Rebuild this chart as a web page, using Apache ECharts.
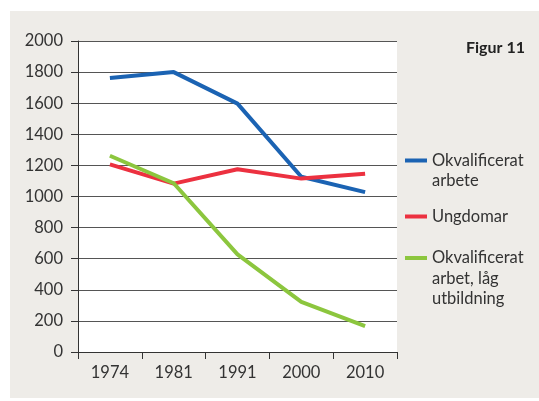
<!DOCTYPE html>
<html><head><meta charset="utf-8">
<script src="https://cdn.jsdelivr.net/npm/echarts@6/dist/echarts.min.js"></script>
<style>
html,body{margin:0;padding:0;background:#fff;width:539px;height:401px;overflow:hidden}
#c{position:absolute;left:10px;top:11px;width:529px;height:387px}
</style></head>
<body><div id="c"></div>
<script>
const categories = ['1974','1981','1991','2000','2010'];
const okvalificeratArbete = [1762, 1800, 1597, 1127, 1028];
const ungdomar = [1207, 1083, 1175, 1115, 1147];
const okvalLagUtb = [1262, 1085, 628, 322, 167];
const seriesNames = ['Okvalificerat\narbete', 'Ungdomar', 'Okvalificerat\narbet, låg\nutbildning'];
const yTicks = {min: 0, max: 2000, interval: 200};

const FONT = 'Lato';
const LH = 20.5;
const textCol = '#333333';
const colors = ['#1b63b3', '#ec3140', '#8cc63e'];

const chart = echarts.init(document.getElementById('c'), null, {renderer: 'canvas'});

function legendFor(i, iconY) {
  const n = seriesNames[i].split('\n').length;
  const H = (2 * n - 1) * LH;
  return {
    show: true,
    orient: 'vertical',
    left: 395,
    top: iconY - 11 - H / 2,
    padding: 0,
    icon: 'rect',
    itemWidth: 22,
    itemHeight: 4,
    itemGap: 9,
    data: [seriesNames[i]],
    formatter: function (name) { return ' \n'.repeat(n - 1) + name; },
    textStyle: {fontFamily: FONT, fontSize: 16.5, color: textCol, lineHeight: LH},
    selectedMode: false
  };
}

chart.setOption({
  backgroundColor: '#eeece8',
  animation: false,
  color: colors,
  title: {
    text: 'Figur 11', right: 14, top: 29, padding: 0,
    textStyle: {fontFamily: FONT, fontSize: 16, fontWeight: 'bold', color: '#222'}
  },
  legend: [legendFor(0, 160.5), legendFor(1, 216.5), legendFor(2, 258)],
  grid: {left: 68, top: 30, right: 142, bottom: 46, show: true, backgroundColor: '#ffffff', borderWidth: 0},
  xAxis: {
    type: 'category', data: categories, boundaryGap: true,
    axisLine: {show: true, lineStyle: {color: '#333', width: 1}},
    axisTick: {show: true, length: 7, lineStyle: {color: '#333'}},
    axisLabel: {fontFamily: FONT, fontSize: 16.5, color: textCol, margin: 12}
  },
  yAxis: {
    type: 'value', min: yTicks.min, max: yTicks.max, interval: yTicks.interval,
    axisLine: {show: true, lineStyle: {color: '#333', width: 1}},
    axisTick: {show: true, length: 7, lineStyle: {color: '#333'}},
    axisLabel: {fontFamily: FONT, fontSize: 16.5, color: textCol, margin: 15, formatter: function (v) { return String(v); }},
    splitLine: {show: true, lineStyle: {color: '#555', width: 1}}
  },
  series: [
    {name: seriesNames[0], type: 'line', data: okvalificeratArbete, showSymbol: false, symbol: 'none', lineStyle: {width: 4}},
    {name: seriesNames[1], type: 'line', data: ungdomar, showSymbol: false, symbol: 'none', lineStyle: {width: 4}},
    {name: seriesNames[2], type: 'line', data: okvalLagUtb, showSymbol: false, symbol: 'none', lineStyle: {width: 4}}
  ]
});
</script></body></html>
